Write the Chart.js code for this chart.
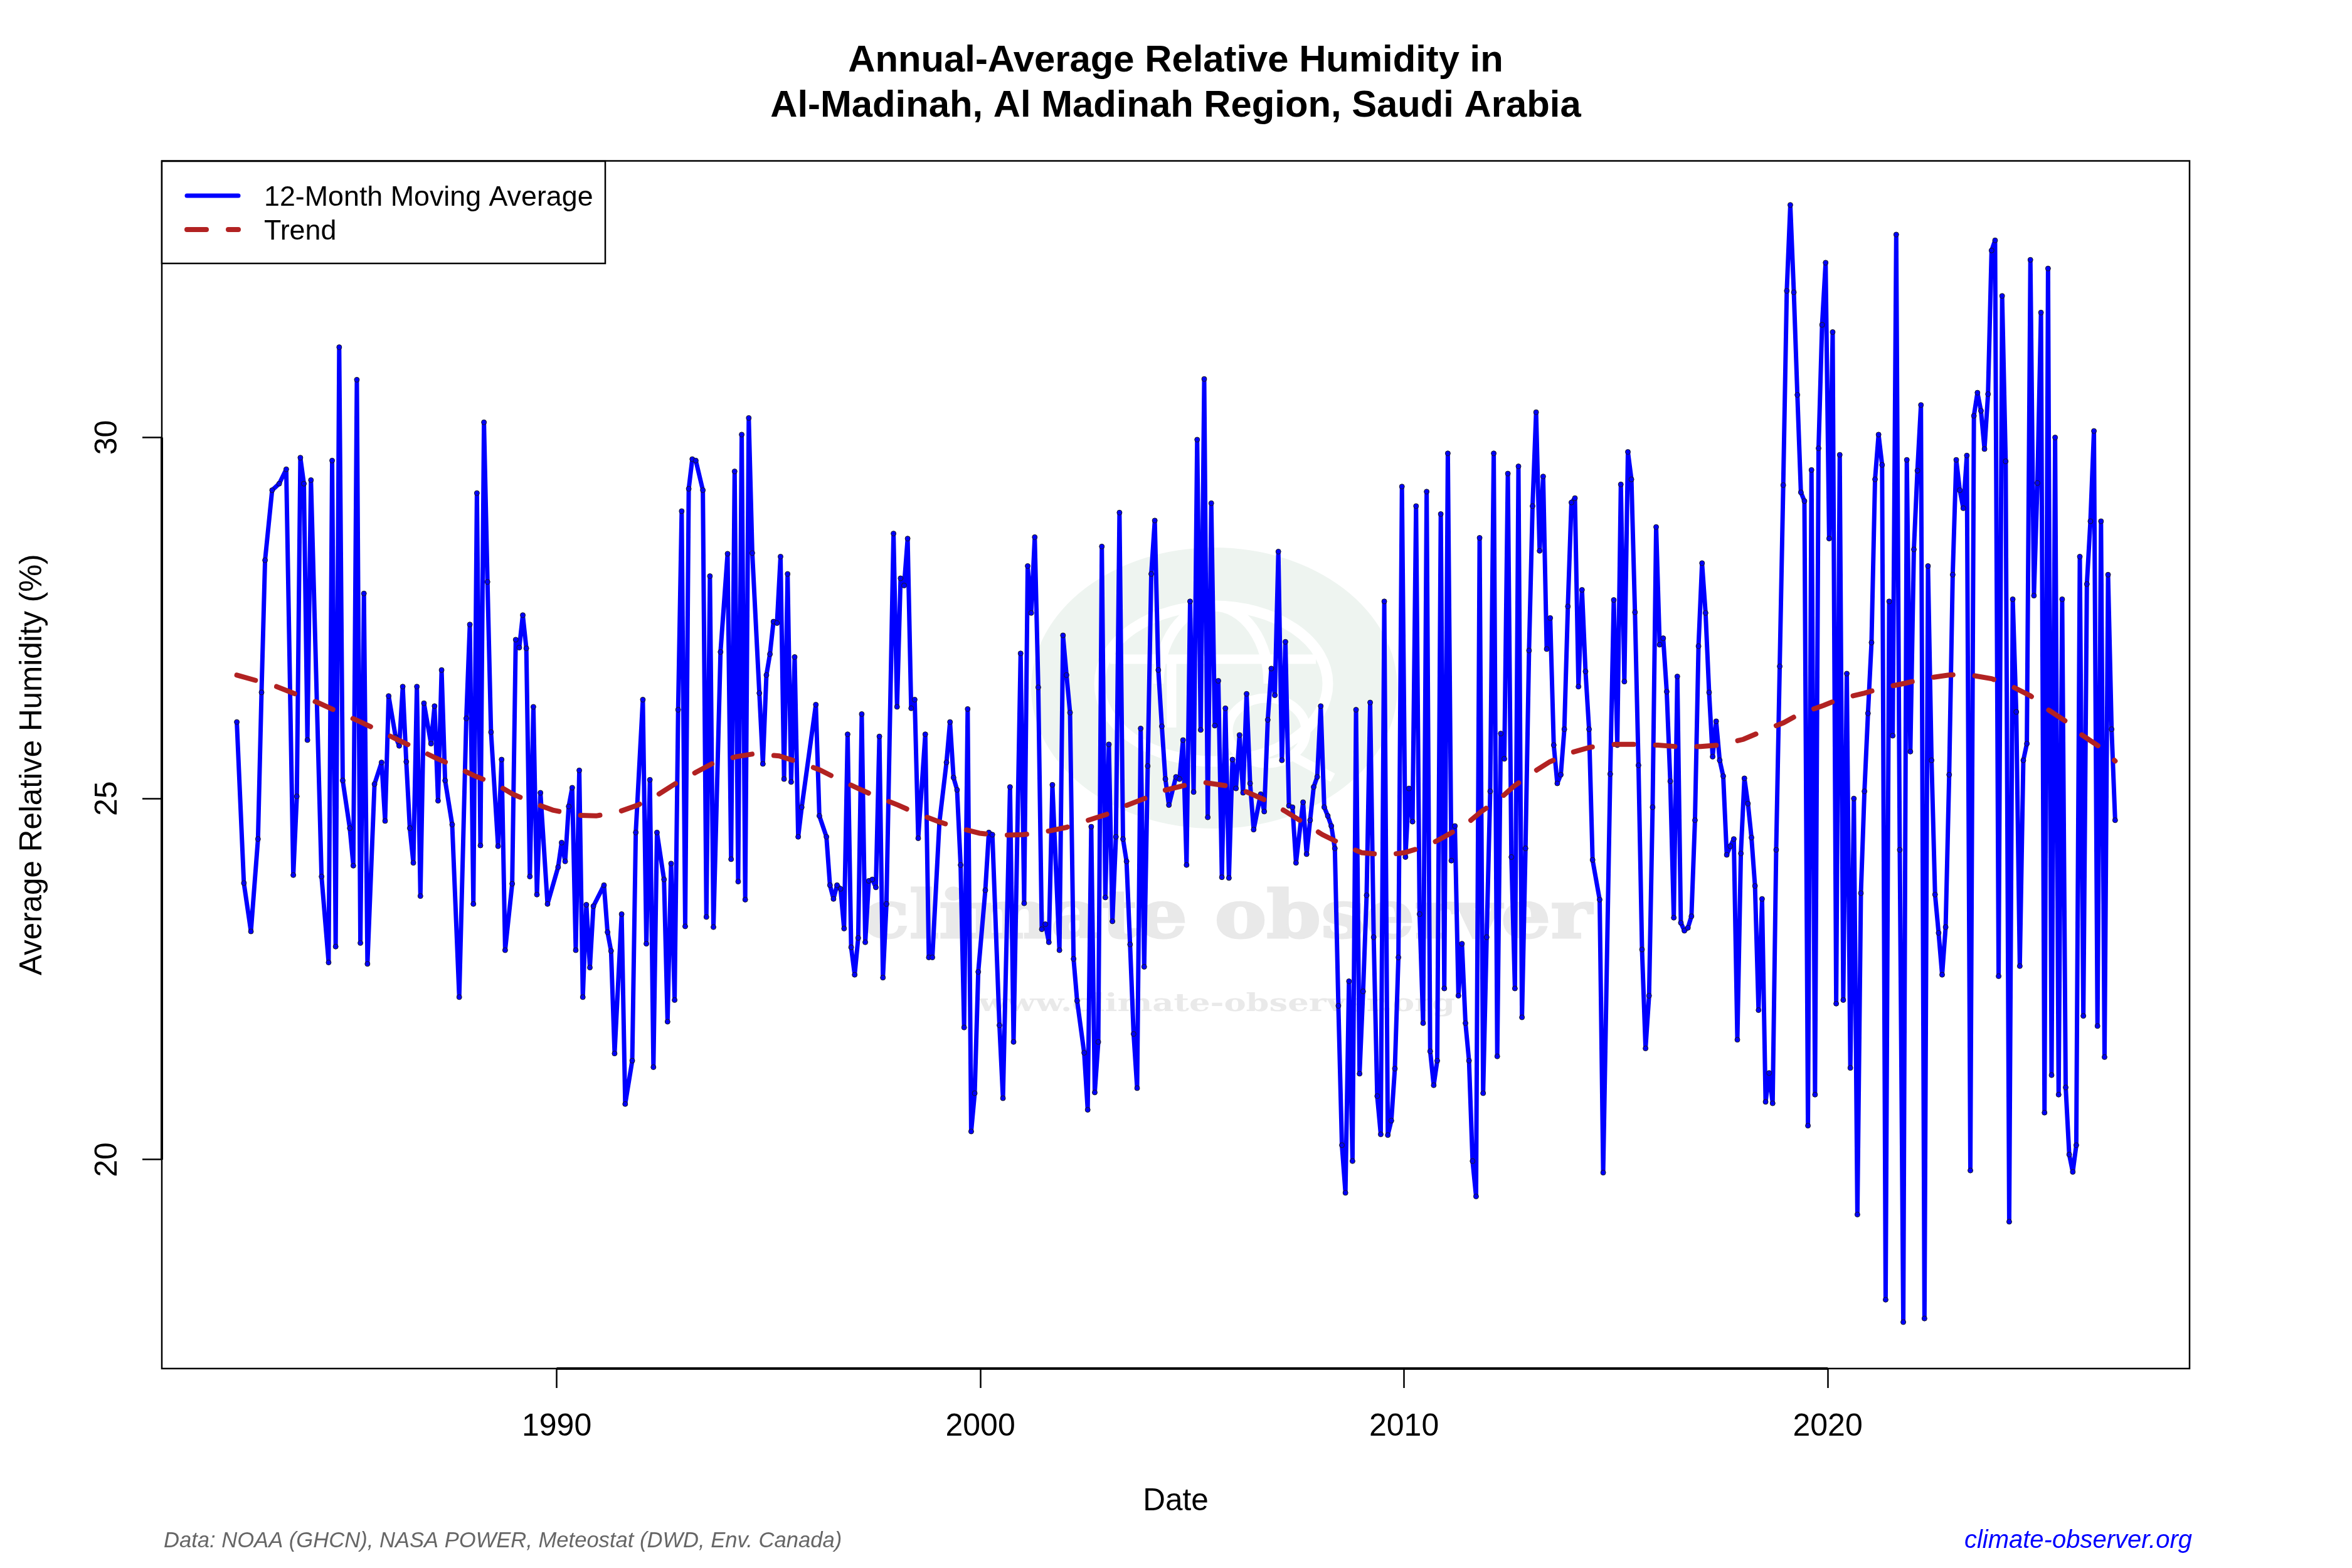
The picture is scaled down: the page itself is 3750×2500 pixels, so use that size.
<!DOCTYPE html>
<html>
<head>
<meta charset="utf-8">
<title>Annual-Average Relative Humidity in Al-Madinah</title>
<script src="https://cdn.jsdelivr.net/npm/chart.js@4/dist/chart.umd.min.js"></script>
<style>
html, body { margin: 0; padding: 0; background: #fff; }
canvas { display: block; }
</style>
</head>
<body>
<canvas id="grafico" width="3750" height="2500"></canvas>
<script>
// First month of the series as a decimal year
const startYear = 1982.45

// Months since startYear that have a reading
const humidityMonths = [0,2,4,6,7,8,10,12,14,16,17,18,19,20,21,24,26,27,28,29,30,32,33,34,35,36,37,39,41,42,43,45,46,47,48,49,50,51,52,53,55,56,57,58,59,61,63,65,66,67,68,69,70,71,72,74,75,76,78,79,80,81,82,83,84,85,86,88,91,92,93,94,95,96,97,98,99,100,101,104,105,106,107,109,110,112,113,115,116,117,118,119,121,122,123,124,125,126,127,128,129,130,132,133,134,135,
  137,139,140,141,142,143,144,145,146,148,149,150,151,152,153,154,155,156,157,158,159,160,164,165,167,168,169,170,171,172,173,174,175,176,177,178,179,180,181,182,183,184,186,187,188,189,190,191,192,193,195,196,197,199,201,202,203,204,205,206,207,208,209,210,212,213,214,216,217,219,220,222,223,224,225,226,227,228,229,230,231,233,234,235,236,237,238,240,241,242,243,244,245,246,247,248,249,250,251,252,253,254,255,256,257,258,259,260,261,262,263,264,266,267,268,269,270,271,272,273,274,275,276,277,
  278,279,280,281,282,283,284,285,286,287,288,290,291,292,293,294,295,296,297,298,299,300,302,303,304,305,306,307,308,309,310,311,312,313,314,315,316,317,318,319,320,321,322,323,324,325,326,327,328,329,330,331,332,333,334,335,336,337,338,339,340,341,342,343,344,345,346,347,348,349,350,351,352,353,354,355,356,357,358,359,360,361,362,363,364,365,366,367,368,369,370,371,372,373,374,375,376,377,378,379,380,381,382,383,384,386,387,389,390,391,392,393,394,395,396,397,398,399,400,401,402,403,404,405,406,407,408,409,410,411,412,413,414,415,416,417,418,419,
  420,421,422,423,424,425,426,427,428,429,430,431,432,433,434,435,436,437,438,439,440,441,442,443,444,445,446,447,448,449,450,451,452,453,454,455,456,457,458,459,460,461,462,463,464,465,466,467,468,469,470,471,472,473,474,475,476,477,478,479,480,481,482,483,484,485,486,487,488,489,490,491,492,493,494,495,496,497,498,499,500,501,502,503,504,505,506,507,508,509,510,511,512,513,514,515,516,517,518,519,520,521,522,523,524,525,526,527,528,529,530,531,532]

// 12-month moving average of relative humidity (%)
const humidityValues = [26.06,23.83,23.16,24.44,26.47,28.30,29.27,29.36,29.56,23.94,25.03,29.72,29.36,25.81,29.41,23.92,22.73,29.68,22.95,31.25,25.25,24.59,24.07,30.80,23.00,27.84,22.71,25.20,25.50,24.69,26.42,25.85,25.73,26.55,25.51,24.59,24.11,26.55,23.65,26.32,25.76,26.28,24.97,26.78,25.25,24.64,22.25,26.11,27.41,23.54,29.23,24.35,30.21,28.00,25.92,24.34,25.54,22.90,23.82,27.20,27.09,27.54,27.08,23.92,26.27,23.67,25.08,23.54,24.05,24.39,24.13,24.89,25.15,22.90,25.39,22.25,23.53,22.66,23.51,23.80,23.15,22.89,21.47,23.40,20.77,21.37,24.53,26.37,22.99,25.26,21.28,24.53,23.88,21.91,24.10,22.21,26.23,28.98,23.23,29.29,29.70,29.68,29.27,23.36,28.08,23.22,
  27.03,28.39,24.16,29.53,23.85,30.04,23.60,30.27,28.40,26.46,25.48,26.71,27.00,27.45,27.43,28.35,25.27,28.11,25.23,26.96,24.47,24.88,26.30,24.76,24.47,23.80,23.61,23.80,23.75,23.20,25.89,22.94,22.56,23.07,26.17,23.01,23.86,23.88,23.77,25.86,22.52,23.54,28.67,26.27,28.05,27.95,28.60,26.25,26.37,24.45,25.89,22.80,22.80,24.67,25.50,26.06,25.29,25.12,24.08,21.83,26.24,20.39,20.92,22.60,23.73,24.53,24.50,21.86,20.85,25.16,21.63,27.01,23.55,28.22,27.57,28.62,26.54,23.19,23.26,23.01,25.19,22.90,27.26,26.71,26.19,22.78,22.20,21.48,20.69,24.61,20.93,21.63,28.49,23.63,25.75,23.30,24.47,28.96,24.44,24.13,22.98,21.74,20.99,25.97,22.67,25.45,28.11,28.85,26.78,26.00,25.27,24.91,25.30,25.27,25.81,24.08,27.73,25.09,29.97,25.95,30.81,24.74,29.09,26.01,
  26.63,23.91,26.25,23.90,25.54,25.14,25.88,25.08,26.45,25.21,24.57,25.06,24.82,26.09,26.80,26.43,28.42,25.53,27.17,24.90,24.88,24.11,24.95,24.23,24.70,25.16,25.30,26.28,24.88,24.76,24.62,24.31,22.13,20.20,19.54,22.47,19.98,26.23,21.19,22.33,23.66,26.33,23.08,20.88,20.35,27.73,20.34,20.54,21.26,22.80,29.32,24.19,25.14,24.68,29.05,23.40,21.89,29.25,21.50,21.03,21.37,28.94,22.37,29.78,24.14,24.62,22.27,22.99,21.89,21.37,19.98,19.49,28.61,20.92,23.08,25.10,29.78,21.43,25.90,25.55,29.50,24.19,22.37,29.60,21.97,24.31,27.05,29.05,30.35,28.43,29.46,27.07,27.50,25.74,25.21,25.33,25.96,27.66,29.10,29.16,26.55,27.89,26.76,25.96,24.15,23.60,19.82,25.34,27.75,25.74,29.35,26.62,29.80,29.42,27.58,25.46,22.91,21.54,22.27,24.88,28.76,27.13,27.22,26.48,25.24,23.35,26.69,23.28,23.17,23.21,23.37,24.70,27.11,28.26,27.57,26.47,25.58,26.07,
  25.53,25.31,24.22,24.34,24.44,21.66,24.24,25.28,24.93,24.46,23.79,22.07,23.61,20.80,21.20,20.78,24.29,26.83,29.34,32.03,33.22,32.01,30.59,29.24,29.12,20.47,29.55,20.90,29.85,31.56,32.42,28.60,31.46,22.16,29.76,22.21,26.73,21.27,25.00,19.24,23.69,25.10,26.18,27.16,29.42,30.04,29.62,18.06,27.73,25.87,32.81,24.29,17.75,29.69,25.65,28.45,29.54,30.45,17.80,28.22,25.53,23.67,23.14,22.56,23.22,25.33,28.10,29.69,29.27,29.02,29.75,19.85,30.30,30.62,30.37,29.84,30.60,32.59,32.73,22.54,31.96,29.67,19.14,27.76,26.20,22.68,25.53,25.76,32.46,27.81,29.37,31.73,20.65,32.34,21.17,30.00,20.90,27.76,21.00,20.07,19.83,20.20,28.35,21.99,27.97,28.84,30.09,21.85,28.84,21.42,28.10,25.96,24.70]

// Long-term trend, read at a coarser step
const trendMonths = [0,6.5,11.3,18,22.9,29.2,34.2,40.3,44.9,51.4,56,62.5,67.1,73.7,78.2,84.5,89.5,96.3,101.8,108.4,113.6,119.5,124,129.9,134.9,141.5,146.5,153.6,158.7,165,169.9,176,181,187.3,192.3,198.8,203.8,210.4,215.6,222.7,227.9,234.9,239.9,246.3,251.2,257.6,262.4,269.1,274.4,281.4,286.1,292.6,297.1,303,307.5,313.7,318.6,325.6,330.7,337.4,342,348.1,352.2,357.8,361.7,367.4,371.9,378.2,383.3,390.3,395.5,402.5,407.7,414.6,419.8,426.7,431.5,438.1,442.6,449.4,454.1,461,465.9,472.8,477.8,484.9,489.8,497,501.7,508.1,512.1,518,522,527.8,532]
const trendValues = [26.71,26.62,26.55,26.42,26.33,26.19,26.08,25.94,25.83,25.68,25.57,25.43,25.32,25.19,25.06,24.93,24.84,24.77,24.76,24.82,24.91,25.06,25.20,25.36,25.49,25.58,25.62,25.59,25.51,25.40,25.28,25.14,25.03,24.91,24.80,24.68,24.60,24.52,24.49,24.50,24.53,24.60,24.68,24.78,24.89,25.01,25.11,25.19,25.22,25.17,25.09,24.95,24.82,24.64,24.50,24.35,24.25,24.22,24.25,24.35,24.47,24.64,24.81,25.00,25.17,25.37,25.51,25.64,25.71,25.75,25.75,25.74,25.72,25.72,25.74,25.82,25.92,26.05,26.17,26.29,26.38,26.46,26.53,26.60,26.66,26.71,26.72,26.66,26.58,26.42,26.26,26.07,25.90,25.71,25.52]

const yearTicks = [1990, 2000, 2010, 2020]
const humidityTicks = [20, 25, 30]

const tituloLineas = ['Annual-Average Relative Humidity in', 'Al-Madinah, Al Madinah Region, Saudi Arabia']
const etiquetaY = 'Average Relative Humidity (%)'
const etiquetaX = 'Date'
const fuenteDatos = 'Data: NOAA (GHCN), NASA POWER, Meteostat (DWD, Env. Canada)'
const sitioWeb = 'climate-observer.org'

const FUENTE = '"Liberation Sans", Arial, sans-serif'

function aPuntos(meses, valores) {
    return meses.map((m, i) => ({ x: startYear + m / 12, y: valores[i] }))
}

// Pale logo and site name sitting behind the lines
const marcaAgua = {
    id: 'marcaAgua',
    beforeDatasetsDraw(chart) {
        const ctx = chart.ctx
        ctx.save()
        ctx.fillStyle = '#eef4f0'
        ctx.beginPath()
        ctx.ellipse(1936, 1097, 292, 224, 0, 0, Math.PI * 2)
        ctx.fill()

        // Globe drawn in white over the disc
        ctx.strokeStyle = '#ffffff'
        ctx.lineWidth = 17
        ctx.beginPath()
        ctx.ellipse(1935, 1090, 182, 124, 0, 0, Math.PI * 2)
        ctx.stroke()
        ctx.beginPath()
        ctx.ellipse(1935, 1090, 88, 124, 0, Math.PI, Math.PI * 2)
        ctx.stroke()
        ctx.lineWidth = 15
        ctx.beginPath()
        ctx.moveTo(1770, 1051)
        ctx.lineTo(2098, 1051)
        ctx.stroke()
        ctx.beginPath()
        ctx.moveTo(1868, 1051)
        ctx.lineTo(1868, 1160)
        ctx.stroke()
        ctx.beginPath()
        ctx.ellipse(2020, 1165, 62, 52, 0, 0, Math.PI * 2)
        ctx.stroke()
        ctx.beginPath()
        ctx.moveTo(2060, 1205)
        ctx.lineTo(2125, 1240)
        ctx.stroke()

        // Site name, stretched sideways to its full width
        ctx.fillStyle = '#e9e9e9'
        ctx.strokeStyle = '#e9e9e9'
        ctx.lineWidth = 3
        ctx.textBaseline = 'alphabetic'
        ctx.textAlign = 'left'
        ctx.font = 'bold 105px "DejaVu Serif"'
        let ancho = ctx.measureText('climate observer').width
        ctx.save()
        ctx.translate(1374, 1495)
        ctx.scale(1164 / ancho, 1)
        ctx.fillText('climate observer', 0, 0)
        ctx.strokeText('climate observer', 0, 0)
        ctx.restore()

        ctx.font = 'bold 40px "DejaVu Serif"'
        ancho = ctx.measureText('www.climate-observer.org').width
        ctx.save()
        ctx.translate(1560, 1612)
        ctx.scale(760 / ancho, 1)
        ctx.fillText('www.climate-observer.org', 0, 0)
        ctx.restore()
        ctx.restore()
    }
}

// Plot box, axis lines, legend and the two small credits
const marco = {
    id: 'marco',
    afterDraw(chart) {
        const ctx = chart.ctx
        const area = chart.chartArea
        ctx.save()

        ctx.strokeStyle = '#000000'
        ctx.lineWidth = 2.5
        ctx.strokeRect(area.left, area.top, area.right - area.left, area.bottom - area.top)

        const x = chart.scales.x
        const y = chart.scales.y
        ctx.lineWidth = 4
        ctx.beginPath()
        ctx.moveTo(x.getPixelForValue(yearTicks[0]), area.bottom)
        ctx.lineTo(x.getPixelForValue(yearTicks[yearTicks.length - 1]), area.bottom)
        ctx.moveTo(area.left, y.getPixelForValue(humidityTicks[0]))
        ctx.lineTo(area.left, y.getPixelForValue(humidityTicks[humidityTicks.length - 1]))
        ctx.stroke()

        // Legend box in the top left corner
        ctx.fillStyle = '#ffffff'
        ctx.fillRect(258, 257, 707, 163)
        ctx.lineWidth = 2.5
        ctx.strokeRect(258, 257, 707, 163)

        ctx.font = '44.8px ' + FUENTE
        ctx.textAlign = 'left'
        ctx.textBaseline = 'middle'
        ctx.lineCap = 'round'
        chart.data.datasets.forEach((ds, i) => {
            const yLinea = 312 + i * 54
            ctx.strokeStyle = ds.borderColor
            ctx.lineWidth = ds.borderWidth
            ctx.setLineDash(ds.borderDash || [])
            ctx.beginPath()
            ctx.moveTo(298, yLinea)
            ctx.lineTo(380, yLinea)
            ctx.stroke()
            ctx.setLineDash([])
            ctx.fillStyle = '#000000'
            ctx.fillText(ds.label, 421, yLinea + 4)
        })

        ctx.font = 'italic 34.6px ' + FUENTE
        ctx.fillStyle = '#666666'
        ctx.fillText(fuenteDatos, 261, 2457)
        ctx.font = 'italic 40px ' + FUENTE
        ctx.fillStyle = '#0000ff'
        ctx.textAlign = 'right'
        ctx.fillText(sitioWeb, 3495, 2457)
        ctx.restore()
    }
}

const ctx = document.querySelector('#grafico').getContext('2d')
new Chart(ctx, {
    type: 'line',
    plugins: [marcaAgua, marco],
    data: {
        datasets: [{
            label: '12-Month Moving Average',
            data: aPuntos(humidityMonths, humidityValues),
            borderColor: '#0000ff',
            borderWidth: 7,
            borderJoinStyle: 'round',
            borderCapStyle: 'round',
            tension: 0,
            pointRadius: 4,
            pointBackgroundColor: '#0000ff',
            pointBorderColor: '#1a1a1a',
            pointBorderWidth: 1,
            order: 1
        }, {
            label: 'Trend',
            data: aPuntos(trendMonths, trendValues),
            borderColor: '#b22222',
            borderWidth: 8,
            borderDash: [31, 35],
            borderCapStyle: 'round',
            tension: 0,
            pointRadius: 0,
            order: 0
        }]
    },
    options: {
        responsive: false,
        animation: false,
        devicePixelRatio: 1,
        layout: { padding: { top: 0, right: 259, bottom: 0, left: 0 } },
        plugins: {
            legend: { display: false },
            tooltip: { enabled: false },
            title: {
                display: true,
                fullSize: false,
                text: tituloLineas,
                color: '#000000',
                font: { family: FUENTE, size: 59.8, weight: 'bold', lineHeight: 1.2 },
                padding: { top: 62, bottom: 51 }
            }
        },
        scales: {
            x: {
                type: 'linear',
                min: 1980.68,
                max: 2028.54,
                afterFit(scale) { scale.height = 318 },
                afterBuildTicks(scale) { scale.ticks = yearTicks.map(v => ({ value: v })) },
                grid: { drawOnChartArea: false, tickLength: 31, tickWidth: 2.5, tickColor: '#000000' },
                border: { display: false },
                ticks: {
                    color: '#000000',
                    font: { family: FUENTE, size: 50 },
                    padding: 32,
                    autoSkip: false,
                    maxRotation: 0,
                    callback: value => String(value)
                },
                title: {
                    display: true,
                    text: etiquetaX,
                    color: '#000000',
                    font: { family: FUENTE, size: 49.5 },
                    padding: { top: 0, bottom: 76 }
                }
            },
            y: {
                type: 'linear',
                min: 17.107,
                max: 33.83,
                afterFit(scale) { scale.width = 258 },
                afterBuildTicks(scale) { scale.ticks = humidityTicks.map(v => ({ value: v })) },
                grid: { drawOnChartArea: false, tickLength: 31, tickWidth: 2.5, tickColor: '#000000' },
                border: { display: false },
                ticks: {
                    color: '#000000',
                    font: { family: FUENTE, size: 50 },
                    padding: 27,
                    crossAlign: 'center',
                    minRotation: 90,
                    maxRotation: 90,
                    callback: value => String(value)
                },
                title: {
                    display: true,
                    text: etiquetaY,
                    color: '#000000',
                    font: { family: FUENTE, size: 49.4 },
                    padding: { top: 23, bottom: 0 }
                }
            }
        }
    }
})
</script>
</body>
</html>
